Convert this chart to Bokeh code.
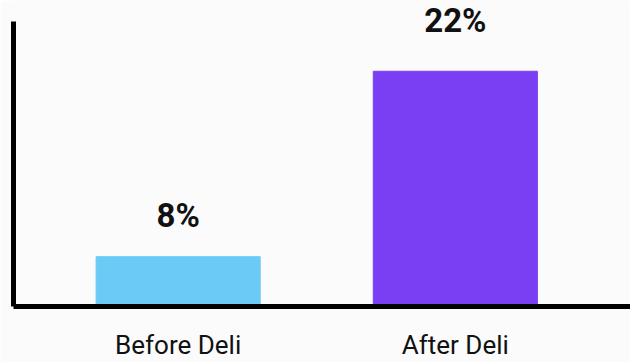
from bokeh.plotting import figure
from bokeh.models import ColumnDataSource, Range1d, FixedTicker
from bokeh.core.properties import value
from bokeh.embed import file_html
from bokeh.resources import INLINE

categories = ["Before Deli", "After Deli"]
positions = [1, 2]
values = [8, 22]
value_labels = ["8%", "22%"]
colors = ["#6ccbf6", "#7b3ff3"]
label_offsets = [-22, -31]

Y0 = 4.237
Y_TOP = 27.344
AXIS_TOP = 25.763
src = ColumnDataSource(dict(x=positions, top=values, color=colors,
                            label=value_labels, yoff=label_offsets))

p = figure(width=630, height=362, output_backend="svg", toolbar_location=None,
           x_range=Range1d(0.406, 2.632), y_range=Range1d(Y0, Y_TOP),
           min_border_left=13, min_border_right=0, min_border_top=0, min_border_bottom=55)
p.background_fill_color = "#fbfbfb"
p.border_fill_color = "#fbfbfb"
p.outline_line_color = None
p.grid.grid_line_color = None

p.vbar(x="x", top="top", bottom=Y0, width=0.592, color="color", source=src)
p.text(x="x", y="top", text="label", source=src, text_align="center",
       text_baseline="bottom", y_offset="yoff", text_font_size="33px",
       text_font_style="bold", text_color="#111111", text_font=value("Roboto"))

p.xaxis.ticker = FixedTicker(ticks=positions)
p.xaxis.major_label_overrides = {pos: c for pos, c in zip(positions, categories)}
p.xaxis.major_label_text_font = "Roboto"
p.xaxis.major_label_text_font_size = "26px"
p.xaxis.major_label_text_color = "#111111"
p.xaxis.major_label_standoff = 17
p.xaxis.major_tick_line_color = None
p.xaxis.minor_tick_line_color = None
p.xaxis.axis_line_width = 5
p.xaxis.axis_line_color = "black"

p.yaxis.ticker = FixedTicker(ticks=[])
p.yaxis.bounds = (Y0, AXIS_TOP)
p.yaxis.major_label_text_font_size = "0px"
p.yaxis.major_tick_line_color = None
p.yaxis.minor_tick_line_color = None
p.yaxis.axis_line_width = 5
p.yaxis.axis_line_color = "black"

open("out.html", "w").write(file_html(p, INLINE))
